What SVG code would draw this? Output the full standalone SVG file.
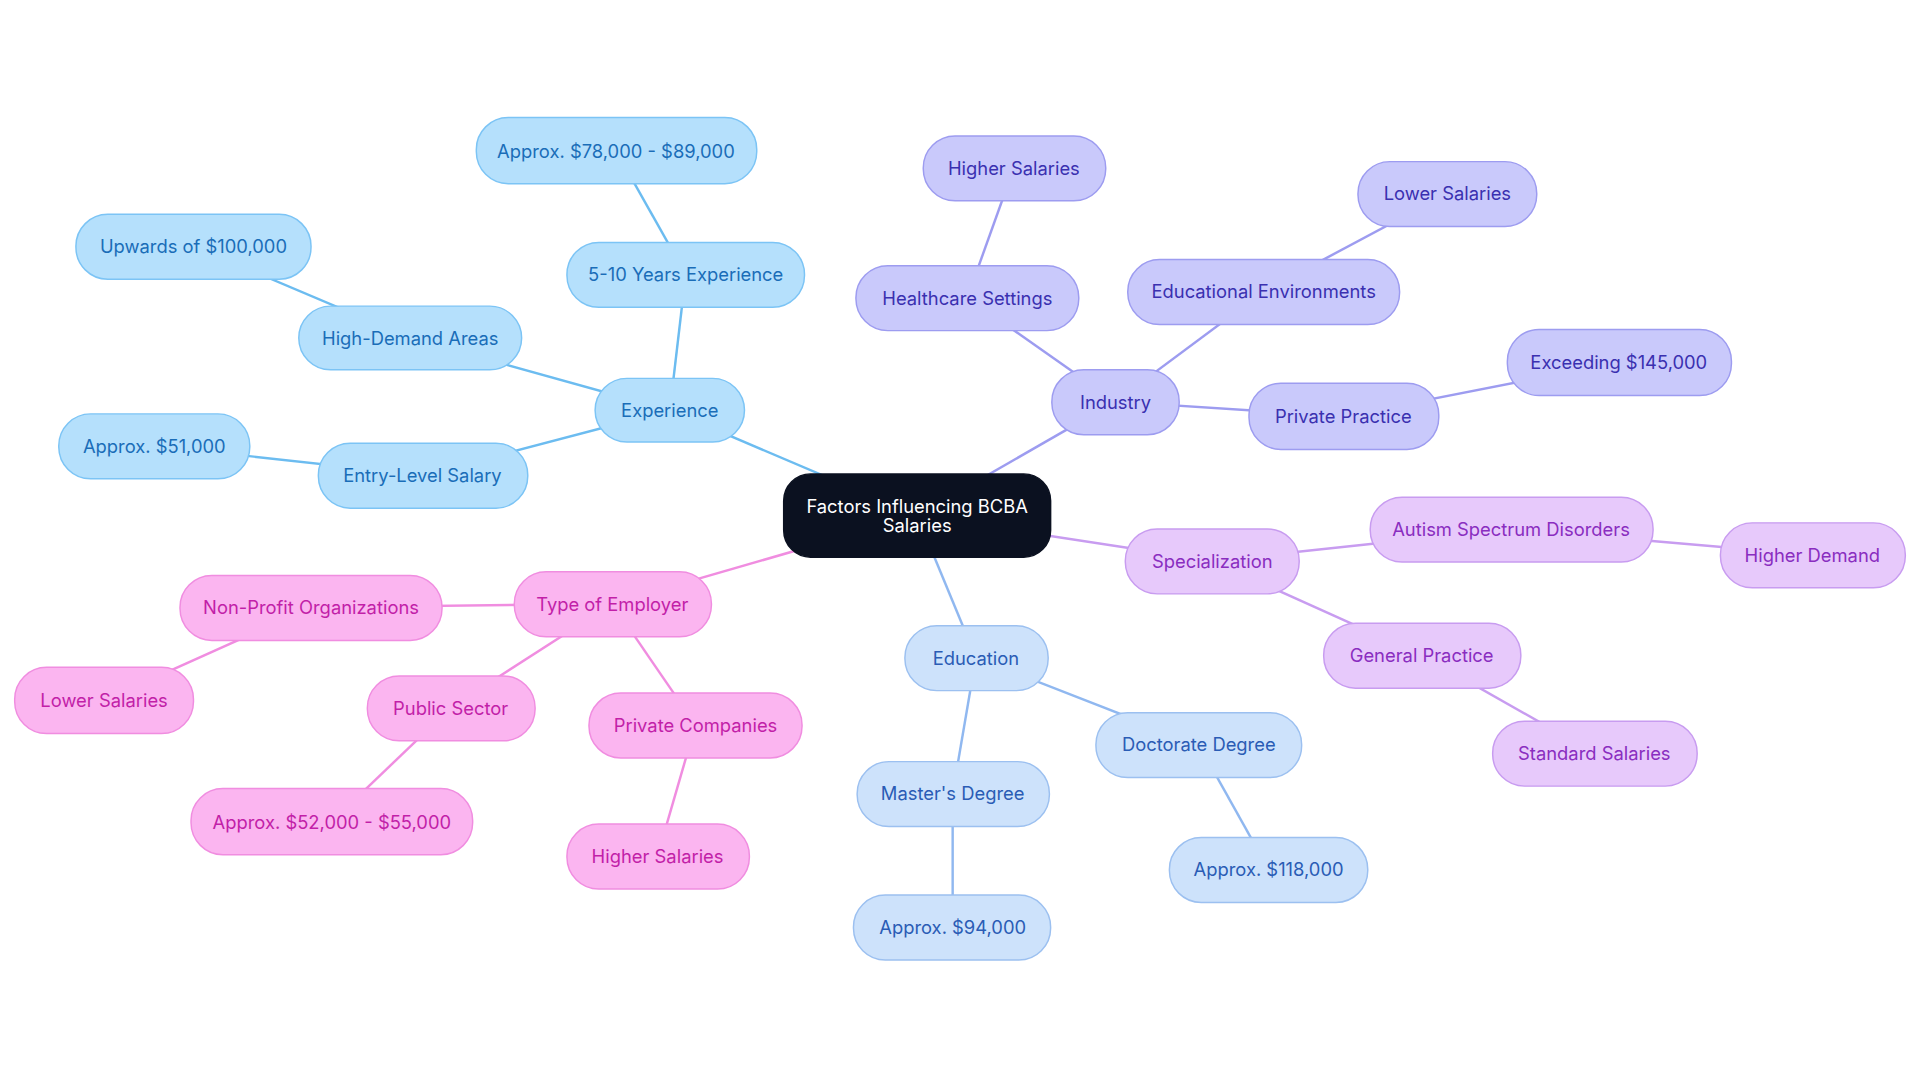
<svg xmlns="http://www.w3.org/2000/svg" width="1920" height="1083" viewBox="0 0 1920 1083">
<style>
text{font-family:Inter,"Liberation Sans",sans-serif;font-size:15px;text-anchor:middle;dominant-baseline:central}
rect{stroke-width:1.2}
.e rect{fill:#b5e0fc;stroke:#7cc4f5}.e text{fill:#1a6db8}
.i rect{fill:#c9c9fb;stroke:#9d9cf0}.i text{fill:#3a30b0}
.s rect{fill:#e7c9fb;stroke:#c89cf0}.s text{fill:#8a2dc0}
.d rect{fill:#cde2fb;stroke:#9cc0f0}.d text{fill:#2a5cb5}
.t rect{fill:#fbb5f0;stroke:#f08de0}.t text{fill:#c21fa8}
#edges line{stroke-width:2}
.le{stroke:#6cbcf0}.li{stroke:#9d9cf0}.ls{stroke:#c89cf0}.ld{stroke:#90b8f0}.lt{stroke:#f08de0}
</style>
<rect width="1920" height="1083" fill="#fff"/>
<g transform="scale(1.2245)">
<g id="edges">
<line class="le" x1="749" y1="421" x2="547" y2="335"/>
<line class="le" x1="547" y1="335" x2="560" y2="224"/>
<line class="le" x1="560" y1="224" x2="503" y2="123"/>
<line class="le" x1="547" y1="335" x2="335" y2="276"/>
<line class="le" x1="335" y1="276" x2="158" y2="201"/>
<line class="le" x1="547" y1="335" x2="345" y2="388"/>
<line class="le" x1="345" y1="388" x2="126" y2="364"/>
<line class="li" x1="749" y1="421" x2="911" y2="328"/>
<line class="li" x1="911" y1="328" x2="790" y2="243"/>
<line class="li" x1="790" y1="243" x2="828" y2="137"/>
<line class="li" x1="911" y1="328" x2="1032" y2="238"/>
<line class="li" x1="1032" y1="238" x2="1182" y2="158"/>
<line class="li" x1="911" y1="328" x2="1097" y2="340"/>
<line class="li" x1="1097" y1="340" x2="1322" y2="296"/>
<line class="ls" x1="749" y1="421" x2="990" y2="458"/>
<line class="ls" x1="990" y1="458" x2="1234" y2="432"/>
<line class="ls" x1="1234" y1="432" x2="1480" y2="453"/>
<line class="ls" x1="990" y1="458" x2="1161" y2="535"/>
<line class="ls" x1="1161" y1="535" x2="1302" y2="615"/>
<line class="ld" x1="749" y1="421" x2="797" y2="537"/>
<line class="ld" x1="797" y1="537" x2="979" y2="608"/>
<line class="ld" x1="979" y1="608" x2="1036" y2="710"/>
<line class="ld" x1="797" y1="537" x2="778" y2="648"/>
<line class="ld" x1="778" y1="648" x2="778" y2="757"/>
<line class="lt" x1="749" y1="421" x2="500" y2="493"/>
<line class="lt" x1="500" y1="493" x2="254" y2="496"/>
<line class="lt" x1="254" y1="496" x2="85" y2="572"/>
<line class="lt" x1="500" y1="493" x2="368" y2="578"/>
<line class="lt" x1="368" y1="578" x2="271" y2="671"/>
<line class="lt" x1="500" y1="493" x2="568" y2="592"/>
<line class="lt" x1="568" y1="592" x2="537" y2="699"/>
</g>
<g id="root"><rect x="640" y="387" width="218" height="68" rx="22" fill="#0b1120" stroke="#0b1120"/><text x="749" y="413" fill="#fff">Factors Influencing BCBA</text><text x="749" y="429" fill="#fff">Salaries</text></g>
<g id="experience" class="e"><rect x="486" y="309" width="122" height="52" rx="26"/><text x="547" y="335">Experience</text></g>
<g id="exp510" class="e"><rect x="463" y="198" width="194" height="53" rx="26"/><text x="560" y="224">5-10 Years Experience</text></g>
<g id="exp510s" class="e"><rect x="389" y="96" width="229" height="54" rx="26"/><text x="503" y="123">Approx. $78,000 - $89,000</text></g>
<g id="highdemand" class="e"><rect x="244" y="250" width="182" height="52" rx="26"/><text x="335" y="276">High-Demand Areas</text></g>
<g id="highdemands" class="e"><rect x="62" y="175" width="192" height="53" rx="26"/><text x="158" y="201">Upwards of $100,000</text></g>
<g id="entry" class="e"><rect x="260" y="362" width="171" height="53" rx="26"/><text x="345" y="388">Entry-Level Salary</text></g>
<g id="entrys" class="e"><rect x="48" y="338" width="156" height="53" rx="26"/><text x="126" y="364">Approx. $51,000</text></g>
<g id="industry" class="i"><rect x="859" y="302" width="104" height="53" rx="26"/><text x="911" y="328">Industry</text></g>
<g id="health" class="i"><rect x="699" y="217" width="182" height="53" rx="26"/><text x="790" y="243">Healthcare Settings</text></g>
<g id="healths" class="i"><rect x="754" y="111" width="149" height="53" rx="26"/><text x="828" y="137">Higher Salaries</text></g>
<g id="edu-env" class="i"><rect x="921" y="212" width="222" height="53" rx="26"/><text x="1032" y="238">Educational Environments</text></g>
<g id="edu-envs" class="i"><rect x="1109" y="132" width="146" height="53" rx="26"/><text x="1182" y="158">Lower Salaries</text></g>
<g id="private" class="i"><rect x="1020" y="313" width="155" height="54" rx="26"/><text x="1097" y="340">Private Practice</text></g>
<g id="privates" class="i"><rect x="1231" y="269" width="183" height="54" rx="26"/><text x="1322" y="296">Exceeding $145,000</text></g>
<g id="spec" class="s"><rect x="919" y="432" width="142" height="53" rx="26"/><text x="990" y="458">Specialization</text></g>
<g id="autism" class="s"><rect x="1119" y="406" width="231" height="53" rx="26"/><text x="1234" y="432">Autism Spectrum Disorders</text></g>
<g id="autisms" class="s"><rect x="1405" y="427" width="151" height="53" rx="26"/><text x="1480" y="453">Higher Demand</text></g>
<g id="general" class="s"><rect x="1081" y="509" width="161" height="53" rx="26"/><text x="1161" y="535">General Practice</text></g>
<g id="generals" class="s"><rect x="1219" y="589" width="167" height="53" rx="26"/><text x="1302" y="615">Standard Salaries</text></g>
<g id="education" class="d"><rect x="739" y="511" width="117" height="53" rx="26"/><text x="797" y="537">Education</text></g>
<g id="doctorate" class="d"><rect x="895" y="582" width="168" height="53" rx="26"/><text x="979" y="608">Doctorate Degree</text></g>
<g id="doctorates" class="d"><rect x="955" y="684" width="162" height="53" rx="26"/><text x="1036" y="710">Approx. $118,000</text></g>
<g id="masters" class="d"><rect x="700" y="622" width="157" height="53" rx="26"/><text x="778" y="648">Master's Degree</text></g>
<g id="masterss" class="d"><rect x="697" y="731" width="161" height="53" rx="26"/><text x="778" y="757">Approx. $94,000</text></g>
<g id="employer" class="t"><rect x="420" y="467" width="161" height="53" rx="26"/><text x="500" y="493">Type of Employer</text></g>
<g id="nonprofit" class="t"><rect x="147" y="470" width="214" height="53" rx="26"/><text x="254" y="496">Non-Profit Organizations</text></g>
<g id="nonprofits" class="t"><rect x="12" y="545" width="146" height="54" rx="26"/><text x="85" y="572">Lower Salaries</text></g>
<g id="public" class="t"><rect x="300" y="552" width="137" height="53" rx="26"/><text x="368" y="578">Public Sector</text></g>
<g id="publics" class="t"><rect x="156" y="644" width="230" height="54" rx="26"/><text x="271" y="671">Approx. $52,000 - $55,000</text></g>
<g id="privco" class="t"><rect x="481" y="566" width="174" height="53" rx="26"/><text x="568" y="592">Private Companies</text></g>
<g id="privcos" class="t"><rect x="463" y="673" width="149" height="53" rx="26"/><text x="537" y="699">Higher Salaries</text></g>
</g>
</svg>
